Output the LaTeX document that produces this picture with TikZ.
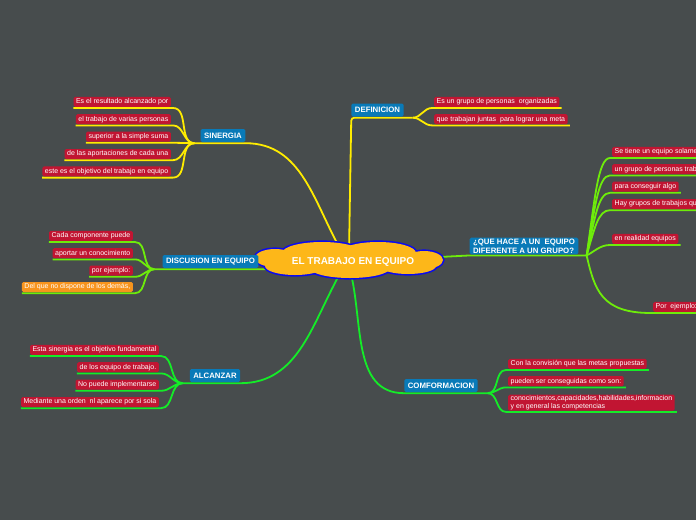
\documentclass[tikz,border=0pt]{standalone}
\usepackage{fontspec}
\setmainfont{Liberation Sans}
\usetikzlibrary{positioning}
\definecolor{bgcol}{RGB}{71,76,77}
\definecolor{lblred}{RGB}{193,21,50}
\definecolor{lblorange}{RGB}{247,148,29}
\definecolor{topblue}{RGB}{9,122,184}
\definecolor{cloudfill}{RGB}{253,183,25}
\definecolor{cloudline}{RGB}{10,10,240}
\definecolor{ylwline}{RGB}{255,236,0}
\definecolor{limeline}{RGB}{110,236,10}
\definecolor{grnline}{RGB}{20,236,40}
\pgfdeclarelayer{bg}
\pgfdeclarelayer{lines}
\pgfsetlayers{bg,lines,main}

\begin{document}
\begin{tikzpicture}[x=1pt,y=1pt,
    lbl/.style={fill=lblred,text=white,rounded corners=1.5pt,
        font=\fontsize{7}{7.6}\selectfont,inner xsep=2.5pt,inner ysep=1pt,
        minimum height=10pt},
    topic/.style={fill=topblue,text=white,rounded corners=1.5pt,
        font=\fontsize{7.8}{9}\selectfont\bfseries,inner xsep=3.5pt,
        inner ysep=1pt,minimum height=13pt},
    ylw/.style={draw=ylwline,line width=1.8pt},
    lim/.style={draw=limeline,line width=1.8pt},
    grn/.style={draw=grnline,line width=1.8pt}]
            \useasboundingbox (0,0) rectangle (696,-520);
            \begin{pgfonlayer}{bg}
                \fill[bgcol] (0,0) rectangle (696,-520);
            \end{pgfonlayer}

            % Central idea: a cloud made of puffs
            \foreach \cx/\cy/\rx/\ry in {275/-258/20/9,322/-253/40/11,378/-253/38/11,
                    424/-260/19/9,408/-266/28/8,350/-268/40/10,295/-266/30/9,349/-260/85/12}
                \draw[cloudline,line width=3.2pt] (\cx,\cy) ellipse [x radius=\rx,y radius=\ry];
            \foreach \cx/\cy/\rx/\ry in {275/-258/20/9,322/-253/40/11,378/-253/38/11,
                    424/-260/19/9,408/-266/28/8,350/-268/40/10,295/-266/30/9,349/-260/85/12}
                \fill[cloudfill] (\cx,\cy) ellipse [x radius=\rx,y radius=\ry];
            \node[text=white,font=\fontsize{10}{12}\selectfont\bfseries] (main) at (353,-262)
                {EL TRABAJO EN EQUIPO};

            % Main topics
            \node[topic] (sin) at (223,-135.5) {SINERGIA};
            \node[topic] (def) at (377.5,-110) {DEFINICION};
            \node[topic] (dis) at (210.5,-261.5) {DISCUSION EN EQUIPO};
            \node[topic,align=left] (que) at (524,-246)
                {¿QUE HACE A UN~ EQUIPO\\DIFERENTE A UN GRUPO?};
            \node[topic] (alc) at (215,-375.5) {ALCANZAR};
            \node[topic] (con) at (441,-385.5) {COMFORMACION};

            % Branch points
            \coordinate (sinB) at ([xshift=-6pt,yshift=-1pt]sin.south west);
            \coordinate (defB) at ([xshift=9pt,yshift=-1pt]def.south east);
            \coordinate (disB) at ([xshift=-8pt,yshift=-1pt]dis.south west);
            \coordinate (queB) at ([xshift=8pt,yshift=-1pt]que.south east);
            \coordinate (alcB) at ([xshift=-7pt,yshift=-1pt]alc.south west);
            \coordinate (conB) at ([xshift=10pt,yshift=-1pt]con.south east);

            % Points hidden behind the cloud
            \coordinate (cSin) at (342,-252);
            \coordinate (cDef) at (349,-252);
            \coordinate (cDis) at (300,-269);
            \coordinate (cQue) at (420,-258);
            \coordinate (cAlc) at (342,-270);
            \coordinate (cCon) at (350,-270);

            % SINERGIA
            \node[lbl,anchor=south east] (s1) at (171,-107) {Es el resultado alcanzado por};
            \node[lbl,below left=7pt and 0pt of s1.south east] (s2) {el trabajo de varias personas};
            \node[lbl,below left=7pt and 0pt of s2.south east] (s3) {superior a la simple suma};
            \node[lbl,below left=7pt and 0pt of s3.south east] (s4) {de las aportaciones de cada una};
            \node[lbl,below left=7pt and 0pt of s4.south east] (s5) {este es el objetivo del trabajo en equipo};

            % DEFINICION
            \node[lbl,anchor=south west] (d1) at (434,-107) {Es un grupo de personas~ organizadas};
            \node[lbl,below right=7pt and 0pt of d1.south west] (d2) {que trabajan juntas~ para lograr una meta};

            % DISCUSION EN EQUIPO
            \node[lbl,anchor=south east] (e1) at (133,-241) {Cada componente puede};
            \node[lbl,below left=7pt and 0pt of e1.south east] (e2) {aportar un conocimiento};
            \node[lbl,below left=7pt and 0pt of e2.south east] (e3) {por ejemplo:};
            \node[lbl,fill=lblorange,below left=6pt and 0pt of e3.south east] (e4) {Del que no dispone de los demás,};

            % QUE HACE A UN EQUIPO DIFERENTE
            \node[lbl,anchor=south west] (q1) at (612,-157) {Se tiene un equipo solame};
            \node[lbl,below right=7pt and 0pt of q1.south west] (q2) {un grupo de personas trab};
            \node[lbl,below right=7pt and 0pt of q2.south west] (q3) {para conseguir algo};
            \node[lbl,below right=7pt and 0pt of q3.south west] (q4) {Hay grupos de trabajos qu};
            \node[lbl,anchor=south west] (q5) at (612,-244) {en realidad equipos};
            \node[lbl,anchor=south west] (q6) at (653,-312) {Por~ ejemplo:};

            % ALCANZAR
            \node[lbl,anchor=south east] (a1) at (159,-355) {Esta sinergia es el objetivo fundamental};
            \node[lbl,below left=7pt and 0pt of a1.south east] (a2) {de los equipo de trabajo.};
            \node[lbl,below left=7pt and 0pt of a2.south east] (a3) {No puede implementarse};
            \node[lbl,below left=7pt and 0pt of a3.south east] (a4) {Mediante una orden~ nl aparece por si sola};

            % COMFORMACION
            \node[lbl,anchor=south west] (c1) at (508,-369) {Con la convisión que las metas propuestas};
            \node[lbl,below right=7pt and 0pt of c1.south west] (c2) {pueden ser conseguidas como son:};
            \node[lbl,align=left,below right=8pt and 0pt of c2.south west] (c3)
                {conocimientos,capacidades,habilidades,informacion\\y en general las competencias};

            % Connect the topics
            \begin{pgfonlayer}{lines}
                \draw[ylw] (sinB) -- ([yshift=-1pt]sin.south east) to[out=0,in=120] (cSin);
                \draw[ylw,rounded corners=3pt] (defB) -- ([yshift=-1pt]def.south west) -- (cDef);
                \draw[lim] (disB) -- ([yshift=-1pt]dis.south east) -- (cDis);
                \draw[lim] (cQue) -- ([yshift=-1pt]que.south west) -- (queB);
                \draw[grn] (alcB) -- ([yshift=-1pt]alc.south east) to[out=0,in=240] (cAlc);
                \draw[grn] (conB) -- ([yshift=-1pt]con.south west) to[out=180,in=285] (cCon);

                \foreach \n in {s1,s2,s3,s4,s5}
                    \draw[ylw] ([yshift=-1pt]\n.south west) -- ([xshift=2pt,yshift=-1pt]\n.south east)
                        to[out=0,in=180] (sinB);
                \foreach \n in {d1,d2}
                    \draw[ylw] (defB) to[out=0,in=180] ([xshift=-2pt,yshift=-1pt]\n.south west)
                        -- ([xshift=2pt,yshift=-1pt]\n.south east);
                \foreach \n in {e1,e2,e3,e4}
                    \draw[lim] ([yshift=-1pt]\n.south west) -- ([xshift=2pt,yshift=-1pt]\n.south east)
                        to[out=0,in=180] (disB);
                \foreach \n/\dy/\dx in {q1/55/12,q2/46/12,q3/36/12,q4/27/12,q5/4/10,q6/-34/50}
                    \draw[lim] (queB) .. controls +(8,\dy) and +(-\dx,0) ..
                        ([xshift=-2pt,yshift=-1pt]\n.south west) -- ([xshift=2pt,yshift=-1pt]\n.south east);
                \foreach \n in {a1,a2,a3,a4}
                    \draw[grn] ([yshift=-1pt]\n.south west) -- ([xshift=2pt,yshift=-1pt]\n.south east)
                        to[out=0,in=180] (alcB);
                \foreach \n in {c1,c2,c3}
                    \draw[grn] (conB) to[out=0,in=180] ([xshift=-2pt,yshift=-1pt]\n.south west)
                        -- ([xshift=2pt,yshift=-1pt]\n.south east);
            \end{pgfonlayer}
        \end{tikzpicture}
\end{document}
